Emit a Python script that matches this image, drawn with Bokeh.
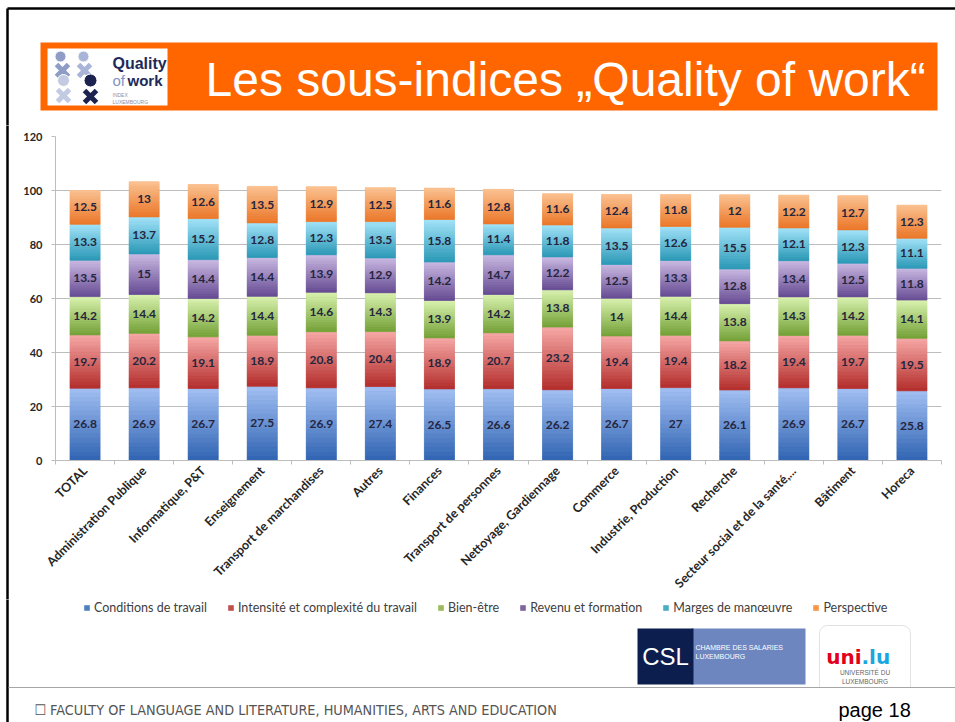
import numpy as np
from bokeh.plotting import figure
from bokeh.layouts import column, row
from bokeh.models import (ColumnDataSource, FixedTicker, BoxAnnotation,
                          Legend, LegendItem, Range1d)
from bokeh.core.properties import value
from bokeh.embed import file_html
from bokeh.resources import INLINE

# ---------------- data ----------------
categories = ["TOTAL", "Administration Publique", "Informatique, P&T", "Enseignement",
              "Transport de marchandises", "Autres", "Finances", "Transport de personnes",
              "Nettoyage, Gardiennage", "Commerce", "Industrie, Production", "Recherche",
              "Secteur social et de la santé,...", "Bâtiment", "Horeca"]
conditions = [26.8, 26.9, 26.7, 27.5, 26.9, 27.4, 26.5, 26.6, 26.2, 26.7, 27.0, 26.1, 26.9, 26.7, 25.8]
intensite = [19.7, 20.2, 19.1, 18.9, 20.8, 20.4, 18.9, 20.7, 23.2, 19.4, 19.4, 18.2, 19.4, 19.7, 19.5]
bien_etre = [14.2, 14.4, 14.2, 14.4, 14.6, 14.3, 13.9, 14.2, 13.8, 14.0, 14.4, 13.8, 14.3, 14.2, 14.1]
revenu = [13.5, 15.0, 14.4, 14.4, 13.9, 12.9, 14.2, 14.7, 12.2, 12.5, 13.3, 12.8, 13.4, 12.5, 11.8]
marges = [13.3, 13.7, 15.2, 12.8, 12.3, 13.5, 15.8, 11.4, 11.8, 13.5, 12.6, 15.5, 12.1, 12.3, 11.1]
perspective = [12.5, 13.0, 12.6, 13.5, 12.9, 12.5, 11.6, 12.8, 11.6, 12.4, 11.8, 12.0, 12.2, 12.7, 12.3]
series_names = ["Conditions de travail", "Intensité et complexité du travail", "Bien-être",
                "Revenu et formation", "Marges de manœuvre", "Perspective"]
y_ticks = [0, 20, 40, 60, 80, 100, 120]
title_text = "Les sous-indices \u201eQuality of work\u201c"
footer_text = "\u2610 FACULTY OF LANGUAGE AND LITERATURE, HUMANITIES, ARTS AND EDUCATION"
page_text = "page 18"

series_values = [conditions, intensite, bien_etre, revenu, marges, perspective]

# ---------------- styles ----------------
mid_colors = ["#4F81BD", "#C0504D", "#9BBB59", "#8064A2", "#4BACC6", "#F79646"]
top_colors = ["#A3C0F3", "#F6A9A7", "#DAF3B0", "#CBBBE3", "#A3E3F9", "#FBC292"]
bot_colors = ["#2F63B2", "#B32D2B", "#73A036", "#654A92", "#2A98B6", "#EA7628"]
label_color = "#25253D"
N_BANDS = 16
BAR_W = 0.51
W = 955
TOP_H, MID_H = 125, 474
BOT_H = 722 - TOP_H - MID_H
STRIP_W = 12


def deco_fig(w, h):
    f = figure(width=w, height=h, x_range=Range1d(0, w), y_range=Range1d(h, 0),
               output_backend="svg", toolbar_location=None,
               x_axis_type=None, y_axis_type=None,
               min_border_left=0, min_border_right=0, min_border_top=0, min_border_bottom=0)
    f.grid.visible = False
    f.outline_line_color = None
    f.background_fill_color = "white"
    f.border_fill_color = "white"
    f.frame_align = False
    return f


def txt(f, x, y, t, size, color, font="Liberation Sans", style="normal", align="left"):
    # y is the vertical centre of the text
    f.text(x=[x], y=[y], text=[t], text_font=value(font), text_font_style=style,
           text_font_size="%spx" % size, text_color=color, text_align=align,
           text_baseline="middle")


# ================= top: slide frame + title banner =================
top = deco_fig(W, TOP_H)
top.segment(x0=[7, 7], y0=[8, 8], x1=[W + 5, 7], y1=[8, TOP_H + 5], line_color="#000000",
            line_width=2.5)
top.quad(left=[40], right=[937], top=[42], bottom=[110], fill_color="#FF6600", line_color=None)
txt(top, 205, 79, title_text, 48, "#FFFFFF")
# Quality of work logo
top.quad(left=[47], right=[167], top=[48], bottom=[105], fill_color="#FFFFFF", line_color=None)
icon_c = ["#8E9CC6", "#A9B5D8", "#C3CBE2", "#1C2350"]
top.scatter(x=[62, 84, 63, 90], y=[70, 70, 95, 96], marker="x", size=17, line_width=5,
            line_color=icon_c)
top.scatter(x=[60, 83, 63, 90], y=[56, 56, 80, 80], marker="circle", size=[11, 11, 12, 13],
            fill_color=icon_c, line_color="white", line_width=1)
txt(top, 112, 63, "Quality", 16, "#1E2A5A", style="bold")
txt(top, 112, 80, "of", 15, "#8193C6")
txt(top, 127, 80, "work", 15, "#1E2A5A", style="bold")
txt(top, 112, 94, "INDEX", 5, "#8A8FA8")
txt(top, 112, 101, "LUXEMBOURG", 5, "#8A8FA8")

# ================= middle: chart =================
strip = deco_fig(STRIP_W, MID_H)
strip.segment(x0=[7], y0=[-5], x1=[7], y1=[MID_H + 5], line_color="#000000", line_width=2.5)

n = len(categories)
FRAME_LEFT, FRAME_TOP, FRAME_BOTTOM, FRAME_RIGHT = 55, 136, 462, 941
p = figure(width=W - STRIP_W, height=MID_H, x_range=Range1d(0, n), y_range=Range1d(0, 120),
           output_backend="svg", toolbar_location=None,
           min_border_left=FRAME_LEFT - STRIP_W, min_border_right=W - FRAME_RIGHT,
           min_border_top=FRAME_TOP - TOP_H,
           min_border_bottom=TOP_H + MID_H - FRAME_BOTTOM)
p.frame_align = False
p.outline_line_color = None
p.background_fill_color = "white"
p.border_fill_color = "white"
p.xgrid.visible = False
p.ygrid.ticker = FixedTicker(ticks=y_ticks)
p.ygrid.grid_line_color = "#BDBDBD"
p.ygrid.grid_line_width = 1

p.yaxis.ticker = FixedTicker(ticks=y_ticks)
p.yaxis.axis_line_color = "#BDBDBD"
p.yaxis.major_tick_line_color = "#BDBDBD"
p.yaxis.major_tick_in = 0
p.yaxis.major_tick_out = 4
p.yaxis.minor_tick_line_color = None
p.yaxis.major_label_text_font = "Lato"
p.yaxis.major_label_text_font_style = "bold"
p.yaxis.major_label_text_font_size = "11px"
p.yaxis.major_label_text_color = "#262626"
p.yaxis.major_label_standoff = 9

centers = [i + 0.5 for i in range(n)]
p.xaxis.ticker = FixedTicker(ticks=centers, minor_ticks=list(range(n + 1)))
p.xaxis.major_label_overrides = {c: cat for c, cat in zip(centers, categories)}
p.xaxis.major_label_orientation = np.pi / 4
p.xaxis.major_tick_line_color = None
p.xaxis.minor_tick_line_color = "#BDBDBD"
p.xaxis.minor_tick_in = 0
p.xaxis.minor_tick_out = 4
p.xaxis.axis_line_color = "#BDBDBD"
p.xaxis.major_label_text_font = "Lato"
p.xaxis.major_label_text_font_style = "bold"
p.xaxis.major_label_text_font_size = "12.5px"
p.xaxis.major_label_text_color = "#262626"
p.xaxis.major_label_standoff = 2


def lerp_color(c1, c2, t):
    a = [int(c1[i:i + 2], 16) for i in (1, 3, 5)]
    b = [int(c2[i:i + 2], 16) for i in (1, 3, 5)]
    return "#%02x%02x%02x" % tuple(int(round(a[k] + (b[k] - a[k]) * t)) for k in range(3))


bottoms = np.zeros(n)
lab_x, lab_y, lab_t = [], [], []
for s, vals in enumerate(series_values):
    vals = np.array(vals, dtype=float)
    tops = bottoms + vals
    src = ColumnDataSource(dict(x=centers, bottom=bottoms.copy(), top=tops.copy()))
    p.vbar(x="x", width=BAR_W, bottom="bottom", top="top", source=src,
           fill_color=mid_colors[s], line_color=None)
    # gradient bands (light at top, dark at bottom)
    bx, bb, bt, bc = [], [], [], []
    for i in range(n):
        seg = tops[i] - bottoms[i]
        for k in range(N_BANDS):
            bx.append(centers[i])
            bb.append(bottoms[i] + seg * k / N_BANDS)
            bt.append(bottoms[i] + seg * (k + 1) / N_BANDS)
            bc.append(lerp_color(bot_colors[s], top_colors[s], (k + 0.5) / N_BANDS))
    bsrc = ColumnDataSource(dict(x=bx, bottom=bb, top=bt, c=bc))
    p.vbar(x="x", width=BAR_W, bottom="bottom", top="top", source=bsrc,
           fill_color="c", line_color="c", line_width=0.6)
    for i in range(n):
        lab_x.append(centers[i])
        lab_y.append((bottoms[i] + tops[i]) / 2)
        lab_t.append("%g" % vals[i])
    bottoms = tops

p.text(x=lab_x, y=lab_y, text=lab_t, text_align="center", text_baseline="middle",
       text_font=value("Lato"), text_font_style="bold", text_font_size="12px",
       text_color=label_color)

# ================= bottom: legend + logos + footer =================
Y0 = TOP_H + MID_H      # canvas y of this figure's top
bot = deco_fig(W, BOT_H)
bot.segment(x0=[7], y0=[-5], x1=[7], y1=[BOT_H + 5], line_color="#000000", line_width=2.5)

legend_items = []
for s, name in enumerate(series_names):
    # off-screen swatch renderer used only for the legend
    r = bot.vbar(x=[-500], top=[0], bottom=[0], width=1, fill_color=mid_colors[s],
                 line_color=None)
    legend_items.append(LegendItem(label=name, renderers=[r]))
legend = Legend(items=legend_items, orientation="horizontal",
                location=(83, BOT_H - 16),
                glyph_width=7, glyph_height=7, label_standoff=4, spacing=20,
                padding=0, margin=0, border_line_color=None, background_fill_alpha=0,
                label_text_font="Lato", label_text_font_size="12.5px",
                label_text_color="#404040", label_height=12)
bot.add_layout(legend)

# footer line
bot.segment(x0=[8], y0=[687 - Y0], x1=[W + 5], y1=[687 - Y0], line_color="#A6A6A6", line_width=1)
# CSL logo
bot.quad(left=[691], right=[805], top=[628 - Y0], bottom=[684 - Y0], fill_color="#6D86BF",
         line_color=None)
bot.quad(left=[637], right=[693], top=[628 - Y0], bottom=[684 - Y0], fill_color="#0B1E4D",
         line_color=None)
txt(bot, 665, 656 - Y0, "CSL", 24, "#FFFFFF", align="center")
txt(bot, 695, 647 - Y0, "CHAMBRE DES SALARIES", 7, "#FFFFFF")
txt(bot, 695, 656 - Y0, "LUXEMBOURG", 7, "#FFFFFF")
# uni.lu logo
bot.add_layout(BoxAnnotation(left=819, right=910, top=625 - Y0, bottom=687 - Y0,
                             fill_color="#FFFFFF", fill_alpha=1, line_color="#A0A0A0",
                             line_width=1, border_radius=(8, 8, 0, 0), level="underlay"))
txt(bot, 861, 656 - Y0, "uni", 20, "#E2001A", font="DejaVu Sans", style="bold", align="right")
txt(bot, 861, 656 - Y0, ".lu", 20, "#1BA6E0", font="DejaVu Sans", style="bold")
txt(bot, 864.5, 672 - Y0, "UNIVERSITÉ DU", 6.5, "#666666", align="center")
txt(bot, 864.5, 681 - Y0, "LUXEMBOURG", 6.5, "#666666", align="center")
# footer texts
txt(bot, 34, 709 - Y0, footer_text, 14.3, "#555555", font="DejaVu Sans Condensed")
txt(bot, 838, 709 - Y0, page_text, 20, "#000000")

layout = column(top, row(strip, p, spacing=0), bot, spacing=0)
open("out.html", "w").write(file_html(layout, INLINE))
